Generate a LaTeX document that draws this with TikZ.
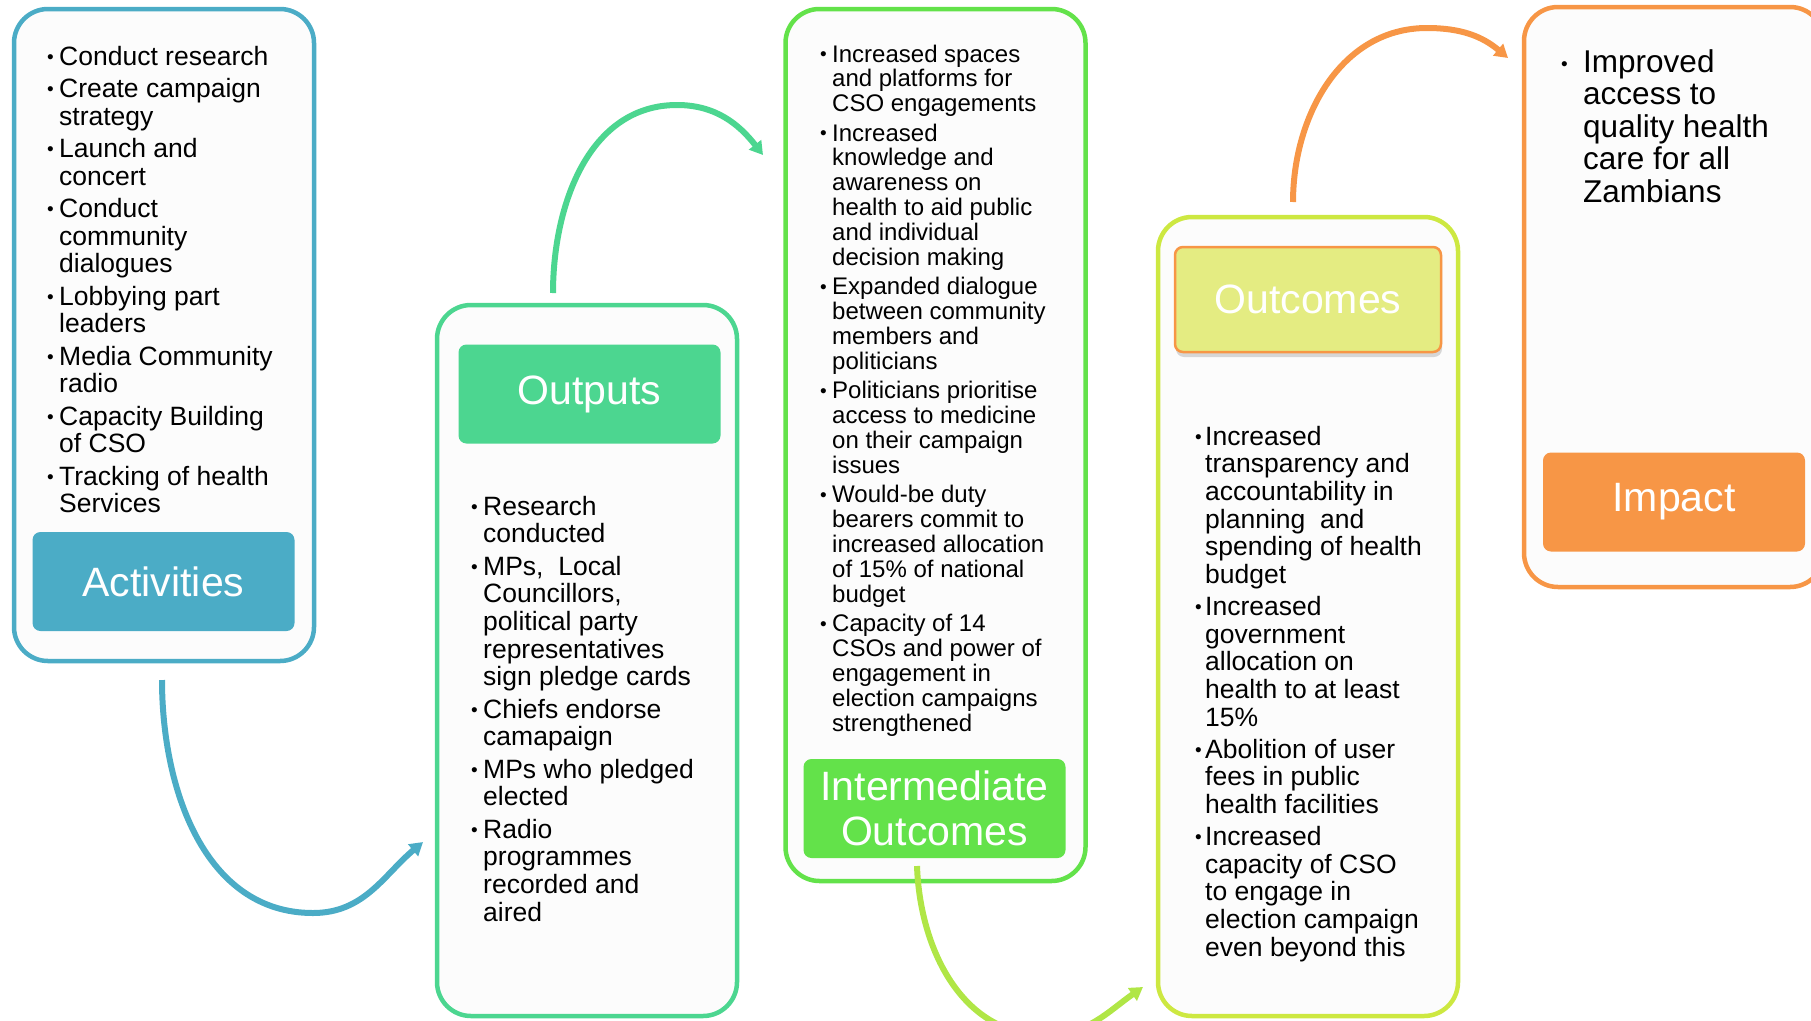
\documentclass[tikz,border=0pt]{standalone}
\usepackage{fontspec}
\setmainfont{Liberation Sans}
\usetikzlibrary{arrows.meta,positioning,shadows}
\definecolor{actBlue}{RGB}{75,172,198}
\definecolor{outGreen}{RGB}{76,214,144}
\definecolor{ioGreen}{RGB}{99,226,74}
\definecolor{ocLime}{RGB}{205,232,65}
\definecolor{ocFill}{RGB}{228,236,130}
\definecolor{ocArrow}{RGB}{176,230,70}
\definecolor{impOrange}{RGB}{247,150,70}
\definecolor{paneFill}{RGB}{252,252,252}
\newcommand{\bul}{\raisebox{1.5pt}{\fontsize{19}{19}\selectfont\textbullet}}

\begin{document}
\begin{tikzpicture}[x=1pt,y=1pt,
    pane/.style={draw=#1, line width=4.5pt, fill=paneFill, rounded corners=34pt,
      minimum width=300pt, inner sep=0pt},
    ttl/.style={fill=#1, text=white, rounded corners=8pt, minimum width=262pt,
      minimum height=99pt, inner sep=0pt, align=center, font=\fontsize{41}{45}\selectfont},
    pts/.style={anchor=base west, inner sep=0pt, font=\fontsize{26.5}{27.7}\selectfont},
    flow/.style={line width=6pt, -{Triangle[length=13pt,width=15pt]}}
  ]
  \useasboundingbox (0,0) rectangle (1811,-1020);

  % Activities
  \node[pane=actBlue, minimum height=652pt] (act) at (164,-335) {};
  \node[ttl=actBlue] (actT) at (163.5,-581.5) {Activities};
  \node[pts] (actL) at (47,-65) {\begin{tabular}[t]{@{}p{12pt}@{}l@{}}
    \bul & Conduct research\\[4.6pt]
    \bul & Create campaign\\ & strategy\\[4.6pt]
    \bul & Launch and\\ & concert\\[4.6pt]
    \bul & Conduct\\ & community\\ & dialogues\\[4.6pt]
    \bul & Lobbying part\\ & leaders\\[4.6pt]
    \bul & Media Community\\ & radio\\[4.6pt]
    \bul & Capacity Building\\ & of CSO\\[4.6pt]
    \bul & Tracking of health\\ & Services
  \end{tabular}};

  % Outputs
  \node[pane=outGreen, minimum height=711pt] (out) at (587,-660.5) {};
  \node[ttl=outGreen] (outT) at (589.5,-394) {Outputs};
  \node[pts] (outL) at (471,-515) {\begin{tabular}[t]{@{}p{12pt}@{}l@{}}
    \bul & Research\\ & conducted\\[4.6pt]
    \bul & MPs,\ \ Local\\ & Councillors,\\ & political party\\ & representatives\\ & sign pledge cards\\[4.6pt]
    \bul & Chiefs endorse\\ & camapaign\\[4.6pt]
    \bul & MPs who pledged\\ & elected\\[4.6pt]
    \bul & Radio\\ & programmes\\ & recorded and\\ & aired
  \end{tabular}};

  % Intermediate outcomes
  \node[pane=ioGreen, minimum height=872pt] (io) at (935.5,-445) {};
  \node[ttl=ioGreen] (ioT) at (934.5,-808.5) {Intermediate\\Outcomes};
  \node[pts, font=\fontsize{24}{24.8}\selectfont] (ioL) at (820,-62) {\begin{tabular}[t]{@{}p{12pt}@{}l@{}}
    \bul & Increased spaces\\ & and platforms for\\ & CSO engagements\\[4.7pt]
    \bul & Increased\\ & knowledge and\\ & awareness on\\ & health to aid public\\ & and individual\\ & decision making\\[4.7pt]
    \bul & Expanded dialogue\\ & between community\\ & members and\\ & politicians\\[4.7pt]
    \bul & Politicians prioritise\\ & access to medicine\\ & on their campaign\\ & issues\\[4.7pt]
    \bul & Would-be duty\\ & bearers commit to\\ & increased allocation\\ & of 15\% of national\\ & budget\\[4.7pt]
    \bul & Capacity of 14\\ & CSOs and power of\\ & engagement in\\ & election campaigns\\ & strengthened
  \end{tabular}};

  % Outcomes
  \node[pane=ocLime, minimum height=799pt] (oc) at (1308,-616.5) {};
  \node[ttl=ocFill, draw=impOrange, line width=2.5pt, minimum width=266pt, minimum height=105pt,
        drop shadow={shadow xshift=1pt, shadow yshift=-5pt, opacity=0.3}] (ocT) at (1308,-299.5) {Outcomes};
  \node[pts] (ocL) at (1195,-445) {\begin{tabular}[t]{@{}p{10pt}@{}l@{}}
    \bul & Increased\\ & transparency and\\ & accountability in\\ & planning\ \ and\\ & spending of health\\ & budget\\[4.2pt]
    \bul & Increased\\ & government\\ & allocation on\\ & health to at least\\ & 15\%\\[4.2pt]
    \bul & Abolition of user\\ & fees in public\\ & health facilities\\[4.2pt]
    \bul & Increased\\ & capacity of CSO\\ & to engage in\\ & election campaign\\ & even beyond this
  \end{tabular}};

  % Impact
  \node[pane=impOrange, minimum height=580pt] (imp) at (1674,-297) {};
  \node[ttl=impOrange] (impT) at (1674,-502) {Impact};
  \node[pts, font=\fontsize{31.5}{32.5}\selectfont] (impL) at (1561,-72) {\begin{tabular}[t]{@{}p{22pt}@{}l@{}}
    \bul & Improved\\ & access to\\ & quality health\\ & care for all\\ & Zambians
  \end{tabular}};

  % Arrows between stages
  \coordinate (actOut) at (162,-680);
  \coordinate (outIn) at (423,-842);
  \coordinate (outOut) at (553,-293);
  \coordinate (ioIn) at (763,-155);
  \coordinate (ioOut) at (917,-866);
  \coordinate (ocIn) at (1143,-987);
  \coordinate (ocOut) at (1293,-202);
  \coordinate (impIn) at (1508,-58);

  \draw[flow, actBlue] (actOut) to[out=-90,in=180] (313,-913) to[out=0,in=-140] (outIn);
  \draw[flow, outGreen] (outOut) to[out=90,in=180] (677,-105) to[out=0,in=128] (ioIn);
  \draw[flow, ocArrow] (ioOut) to[out=-88,in=180] (1045,-1035) to[out=0,in=-145] (ocIn);
  \draw[flow, impOrange] (ocOut) to[out=90,in=180] (1427,-28) to[out=0,in=140] (impIn);
\end{tikzpicture}
\end{document}
